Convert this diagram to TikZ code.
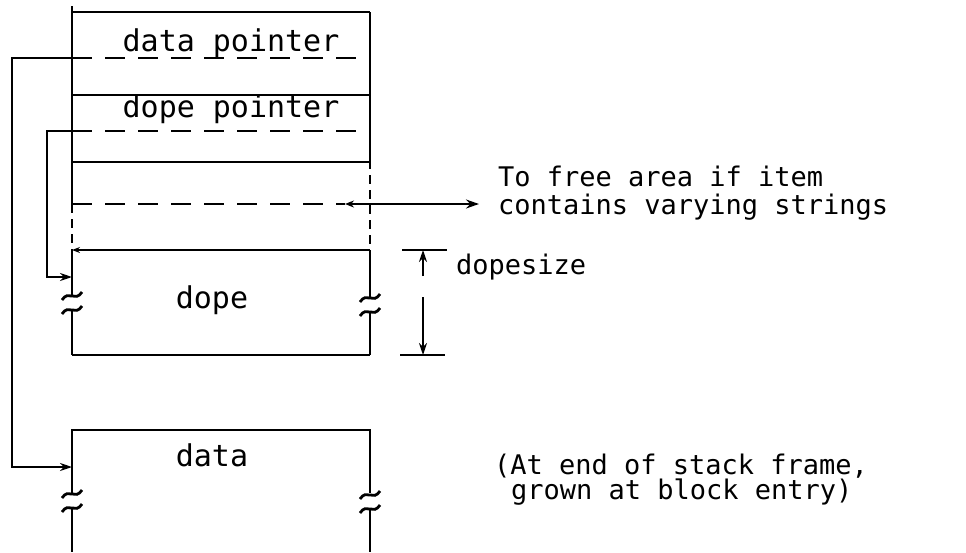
\documentclass[tikz,border=0pt]{standalone}
\usepackage{fontspec}
\newfontfamily\tw{DejaVu Sans Mono}
\usetikzlibrary{arrows.meta}

\begin{document}
\begin{tikzpicture}[x=1pt,y=-1pt, line width=2.2pt,
  lbl/.style={font=\tw\fontsize{27}{22}\selectfont, inner sep=0pt, anchor=west},
  boxlbl/.style={font=\tw\fontsize{30}{30}\selectfont, inner sep=0pt},
  dsh/.style={dash pattern=on 20pt off 13pt},
  vdsh/.style={dash pattern=on 9pt off 6pt},
  tip/.style={-{Stealth[length=12pt,width=8pt]}},
  smalltip/.style={{Stealth[length=8pt,width=6pt]}-},
  brk/.pic={\draw[line width=2.8pt] (-10,4) .. controls (-3,-7) and (3,7) .. (10,-4);},
]
\useasboundingbox[fill=white] (0,0) rectangle (966,552);

% ---- upper frame: pointers and dope ----
\coordinate (ftop) at (72,6);
\coordinate (fTL) at (72,12);
\coordinate (fTR) at (370,12);
\draw (fTL) -- (fTR);
\draw (ftop) -- (72,204);
\draw[vdsh] (72,204) -- (72,250);
\draw (72,250) -- (72,295);
\draw (72,311) -- (72,355);
\draw (fTR) -- (370,160);
\draw[vdsh] (370,160) -- (370,250);
\draw (370,250) -- (370,297);
\draw (370,313) -- (370,355);
\pic at (72,296) {brk};
\pic at (72,310) {brk};
\pic at (370,298) {brk};
\pic at (370,312) {brk};

% rows
\coordinate (dpL) at (72,58);   \coordinate (dpR) at (370,58);
\coordinate (opL) at (72,131);  \coordinate (opR) at (370,131);
\draw[dsh] (dpL) -- (dpR);
\draw (72,95) -- (370,95);
\draw[dsh] (opL) -- (opR);
\draw (72,162) -- (370,162);
\coordinate (faL) at (72,204);  \coordinate (faR) at (345,204);
\draw[dsh] (faL) -- (faR);
\coordinate (dopeTL) at (72,250); \coordinate (dopeTR) at (370,250);
\draw[smalltip] (dopeTL) -- (dopeTR);
\draw (72,355) -- (370,355);

\node[boxlbl] (ldata) at (231,43) {data pointer};
\node[boxlbl] (ldope) at (231,109) {dope pointer};
\node[boxlbl] (dope) at (212,300) {dope};

% ---- data area ----
\coordinate (dTL) at (72,430);  \coordinate (dTR) at (370,430);
\draw (72,493) -- (dTL) -- (dTR) -- (370,493);
\draw (72,509) -- (72,552);
\draw (370,510) -- (370,552);
\pic at (72,494) {brk};
\pic at (72,508) {brk};
\pic at (370,495) {brk};
\pic at (370,509) {brk};
\node[boxlbl] (data) at (212,455) {data};
\coordinate (dataIn) at (72,467);
\coordinate (dopeIn) at (72,277);

% ---- pointer connectors ----
\draw[tip, line width=2.8pt] (dpL) -- (12,58) |- (dataIn);
\draw[tip] (opL) -- (47,131) |- (dopeIn);

% ---- free area pointer ----
\node[lbl] (free1) at (497,176) {To free area if item};
\node[lbl] (free2) at (497,207) {contains varying strings};
\draw[{Stealth[length=9pt,width=7pt]}-{Stealth[length=13pt,width=9pt]}, shorten >=18pt] (faR) -- (faR -| free2.west);

% ---- dopesize dimension ----
\coordinate (szT) at (423,250);
\coordinate (szB) at (423,355);
\draw (402,250) -- (447,250);
\draw (400,355) -- (445,355);
\node[lbl] (dsize) at (455,267) {dopesize};
\draw[tip] (423,276) -- (szT);
\draw[tip] (423,297) -- (szB);

% ---- note on data placement ----
\node[lbl] (note1) at (493,466) {(At end of stack frame,};
\node[lbl] (note2) at (510,492) {grown at block entry)};
\end{tikzpicture}
\end{document}
